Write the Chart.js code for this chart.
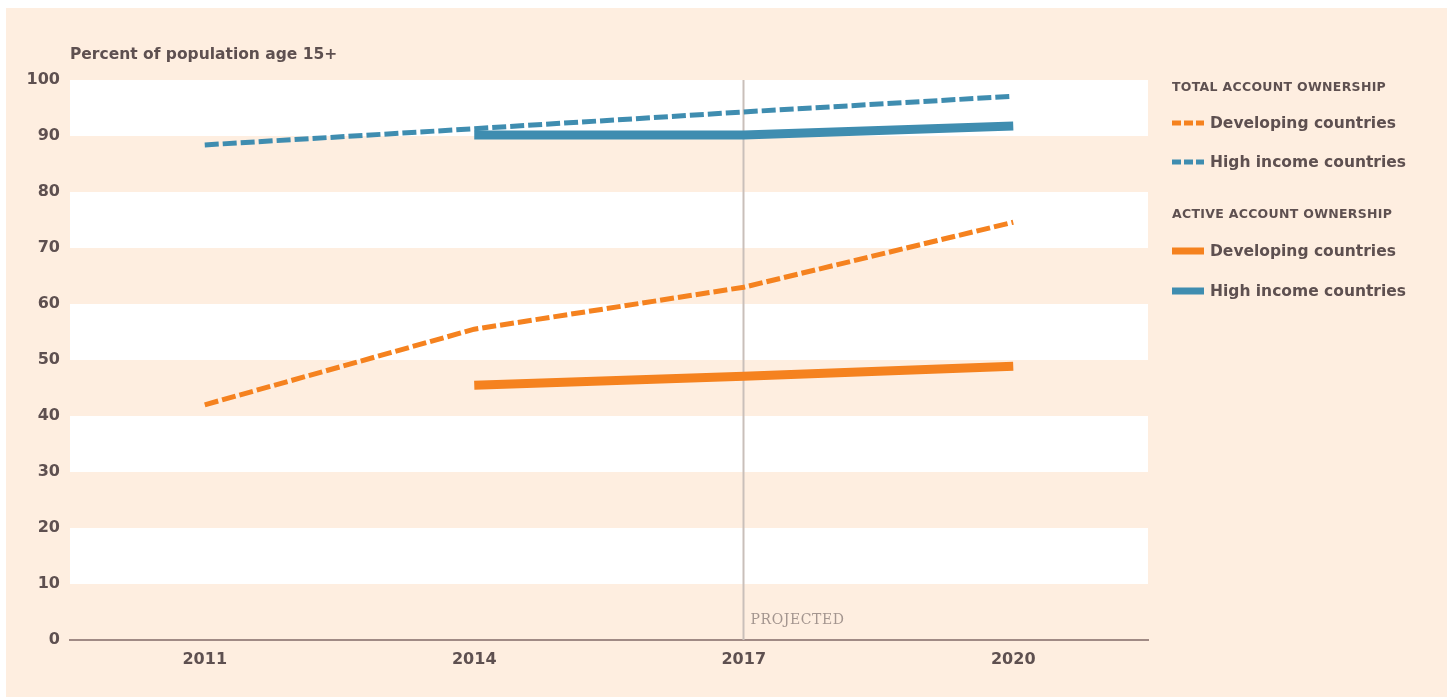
<!DOCTYPE html>
<html>
<head>
<meta charset="utf-8">
<script src="https://cdn.jsdelivr.net/npm/chart.js@4/dist/chart.umd.min.js"></script>
<style>
  html, body { margin: 0; padding: 0; background: #ffffff; }
  body { width: 1447px; height: 697px; position: relative; overflow: hidden; font-family: "DejaVu Sans", Lato, sans-serif; }
  #panel { position: absolute; left: 6px; top: 8px; right: 0; bottom: 0; background: #feeee0; }
  #wrap { position: absolute; left: 0; top: 0; width: 1447px; height: 697px; }
  #ytitle { position: absolute; left: 70px; top: 45px; font-weight: 700; font-size: 15.5px; color: #5e5050; letter-spacing: 0; white-space: nowrap; }
  #legend { position: absolute; left: 1172px; top: 0; color: #5e5050; }
  .lg-head { position: absolute; left: 0; white-space: nowrap; font-weight: 700; font-size: 12.5px; letter-spacing: 0.3px; }
  .lg-item { position: absolute; left: 0; white-space: nowrap; display: flex; align-items: center; font-weight: 700; font-size: 15.5px; letter-spacing: 0; }
  .lg-item canvas { margin-right: 6px; }
</style>
</head>
<body>
<div id="panel"></div>
<div id="wrap"><canvas id="chart" width="1447" height="697"></canvas></div>
<div id="ytitle">Percent of population age 15+</div>
<div id="legend"></div>
<script>
// Survey years
const years = ['2011', '2014', '2017', '2020'];
const yTicks = [0, 10, 20, 30, 40, 50, 60, 70, 80, 90, 100];

// Total account ownership (% of population age 15+)
const totalDeveloping = [42.0, 55.5, 63.0, 74.6];
const totalHighIncome = [88.4, 91.3, 94.3, 97.1];

// Active account ownership (% of population age 15+)
const activeDeveloping = [null, 45.5, 47.1, 48.9];
const activeHighIncome = [null, 90.2, 90.2, 91.8];

const projectedFrom = '2017';
const projectedLabel = 'PROJECTED';

const ORANGE = '#f5821f';
const BLUE = '#3f8db0';
const TEXT = '#5e5050';
const FONT = '"DejaVu Sans", Lato, sans-serif';

const legendGroups = [
  { head: 'TOTAL ACCOUNT OWNERSHIP', top: 79, items: [
    { label: 'Developing countries', color: ORANGE, dashed: true, y: 123 },
    { label: 'High income countries', color: BLUE, dashed: true, y: 162 } ] },
  { head: 'ACTIVE ACCOUNT OWNERSHIP', top: 206, items: [
    { label: 'Developing countries', color: ORANGE, dashed: false, y: 251 },
    { label: 'High income countries', color: BLUE, dashed: false, y: 291 } ] }
];

// Alternating white / peach horizontal bands behind the plot
const bandsPlugin = {
  id: 'bands',
  beforeDatasetsDraw(chart) {
    const { ctx, chartArea, scales } = chart;
    const y = scales.y;
    ctx.save();
    ctx.fillStyle = '#ffffff';
    for (let v = 10; v < 100; v += 20) {
      const top = y.getPixelForValue(v + 10);
      const bot = y.getPixelForValue(v);
      ctx.fillRect(chartArea.left, top, chartArea.right - chartArea.left, bot - top);
    }
    // vertical marker for projected years
    const xp = Math.round(scales.x.getPixelForValue(years.indexOf(projectedFrom))) - 0.5;
    ctx.strokeStyle = '#c9bfba';
    ctx.lineWidth = 2;
    ctx.beginPath();
    ctx.moveTo(xp, chartArea.top);
    ctx.lineTo(xp, chartArea.bottom);
    ctx.stroke();
    ctx.font = '14px "DejaVu Serif", "Liberation Serif", serif';
    ctx.fillStyle = '#a3958f';
    ctx.textBaseline = 'alphabetic';
    ctx.textAlign = 'left';
    if ('letterSpacing' in ctx) ctx.letterSpacing = '0.6px';
    ctx.fillText(projectedLabel, xp + 7, chartArea.bottom - 16);
    ctx.restore();
  }
};

const ds = (data, color, width, dash) => ({
  data, borderColor: color, backgroundColor: color, borderWidth: width,
  borderDash: dash, borderCapStyle: 'butt', borderJoinStyle: 'miter',
  pointRadius: 0, pointHoverRadius: 0, tension: 0, spanGaps: false, fill: false
});

new Chart(document.getElementById('chart'), {
  type: 'line',
  data: {
    labels: years,
    datasets: [
      ds(activeDeveloping, ORANGE, 9, []),
      ds(activeHighIncome, BLUE, 9, []),
      ds(totalDeveloping, ORANGE, 5, [14, 4]),
      ds(totalHighIncome, BLUE, 5, [14, 4])
    ]
  },
  options: {
    responsive: false,
    animation: false,
    events: [],
    layout: { padding: { left: 0, top: 80, right: 299, bottom: 0 } },
    plugins: { legend: { display: false }, tooltip: { enabled: false }, title: { display: false } },
    scales: {
      x: {
        offset: true,
        grid: { display: false, drawTicks: false },
        border: { display: true, color: '#a08a85', width: 2 },
        ticks: { color: TEXT, font: { family: FONT, weight: 'bold', size: 16 }, padding: 10 },
        afterFit(s) { s.height = 57; }
      },
      y: {
        min: 0, max: 100,
        afterBuildTicks(s) { s.ticks = yTicks.map(v => ({ value: v })); },
        grid: { display: false, drawTicks: false },
        border: { display: false },
        ticks: { color: TEXT, font: { family: FONT, weight: 'bold', size: 16 }, padding: 10 },
        afterFit(s) { s.width = 70; }
      }
    }
  },
  plugins: [bandsPlugin]
});

// Grouped legend
const legend = document.getElementById('legend');
legendGroups.forEach(g => {
  const h = document.createElement('div');
  h.className = 'lg-head';
  h.style.top = g.top + 'px';
  h.textContent = g.head;
  legend.appendChild(h);
  g.items.forEach(it => {
    const row = document.createElement('div');
    row.className = 'lg-item';
    row.style.top = (it.y - 11) + 'px';
    row.style.height = '22px';
    const sw = document.createElement('canvas');
    sw.width = 32; sw.height = 10;
    const c = sw.getContext('2d');
    c.strokeStyle = it.color;
    c.lineWidth = it.dashed ? 5 : 7;
    c.setLineDash(it.dashed ? [9, 3] : []);
    c.beginPath(); c.moveTo(0, 5); c.lineTo(32, 5); c.stroke();
    row.appendChild(sw);
    const t = document.createElement('span');
    t.textContent = it.label;
    row.appendChild(t);
    legend.appendChild(row);
  });
});
</script>
</body>
</html>
